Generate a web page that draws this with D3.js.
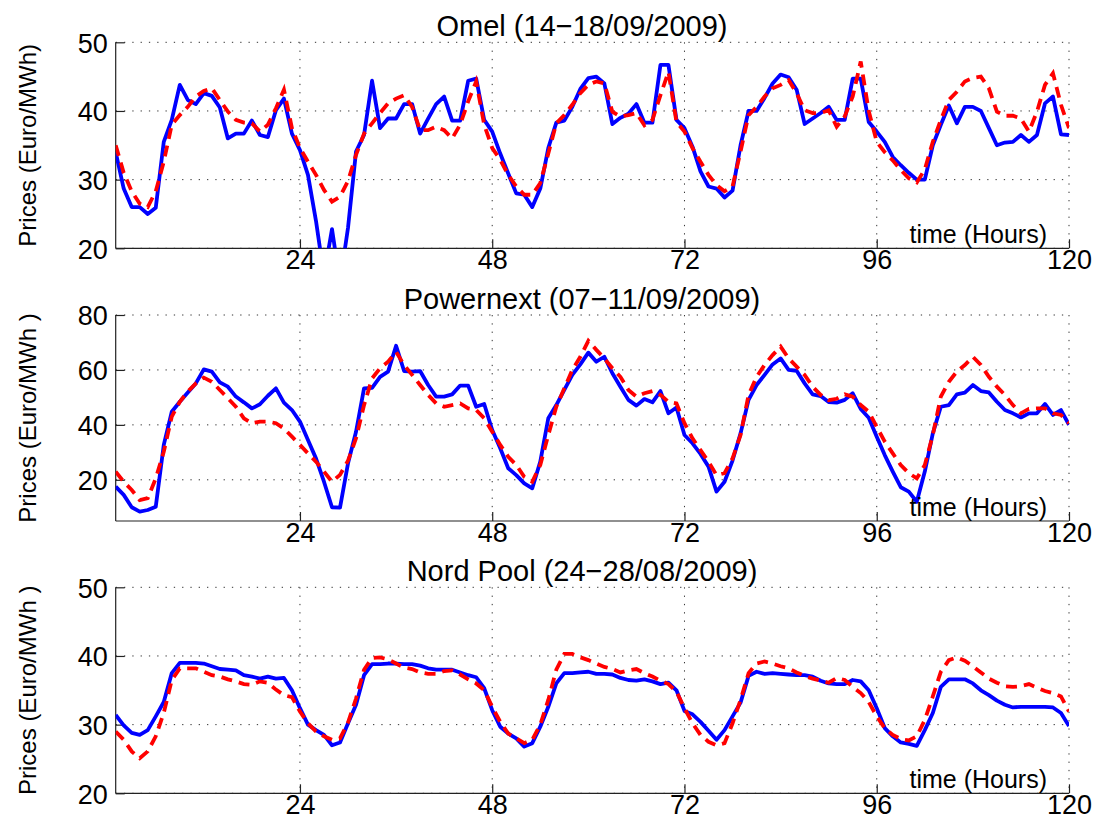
<!DOCTYPE html>
<html>
<head>
<meta charset="utf-8">
<script src="https://cdn.jsdelivr.net/npm/d3@7"></script>
<style>
  body { margin: 0; background: #fff; }
  text { font-family: "Liberation Sans", Arial, Helvetica, sans-serif; fill: #000; }
</style>
</head>
<body>
<svg width="1095" height="827"></svg>
<script>
// hourly prices, hour 1..120 (blue = actual, red dashed = forecast)
const omelActual = [34.0,28.7,26.0,26.0,25.0,25.9,35.5,38.7,43.8,41.6,41.0,42.6,42.2,40.5,36.0,36.7,36.7,38.6,36.5,36.2,
  40.1,41.8,36.7,34.3,30.7,24.0,16.0,22.8,15.0,23.0,34.1,36.5,44.4,37.5,38.9,38.9,41.0,41.0,36.7,38.9,
  41.0,42.1,38.6,38.6,44.4,44.7,38.7,37.0,33.8,30.9,28.0,27.8,26.0,28.7,34.6,38.3,38.6,40.6,43.2,44.8,
  45.0,44.0,38.1,39.0,39.6,41.0,38.3,38.3,46.7,46.7,38.7,37.5,34.8,31.2,29.0,28.7,27.4,28.4,35.0,40.0,
  40.0,41.9,44.0,45.3,44.9,43.1,38.1,38.9,39.7,40.6,38.7,38.7,44.7,44.7,38.4,37.0,35.5,33.3,32.1,31.0,
  30.0,30.0,35.0,38.0,40.8,38.2,40.6,40.6,40.0,37.5,35.0,35.4,35.5,36.5,35.5,36.5,41.1,42.1,36.6,36.5];
const omelForecast = [35.0,31.0,28.3,26.5,26.0,28.3,32.6,38.0,39.4,40.6,42.1,42.9,43.3,41.6,39.9,38.7,38.3,38.2,37.0,38.0,
  40.4,43.1,37.5,34.6,32.6,30.7,28.5,26.8,27.5,29.8,33.6,36.7,38.2,39.7,41.1,41.8,42.3,40.6,37.2,37.2,
  37.7,37.2,36.0,38.0,41.4,44.3,38.0,34.6,32.9,30.7,29.0,27.8,27.8,29.5,33.8,38.2,39.4,40.9,42.6,43.8,
  44.3,44.0,39.9,39.2,39.4,39.7,37.9,38.7,42.3,45.7,38.4,37.0,34.6,32.6,30.7,29.2,28.3,29.0,34.1,39.4,
  40.6,42.1,43.3,43.8,44.5,42.6,40.1,39.7,39.7,40.1,37.7,39.2,42.1,47.2,40.0,35.5,34.0,32.8,31.4,30.2,
  29.6,31.5,35.5,38.7,41.6,42.8,44.3,44.8,45.0,43.3,39.9,39.3,39.3,38.9,37.0,39.9,43.8,45.5,40.9,37.5];

const powerActual = [17.5,14.5,10.0,8.4,9.0,10.2,32.7,44.8,48.4,51.8,55.1,60.2,59.4,55.5,53.9,50.3,48.2,46.0,47.5,50.6,
  53.3,48.1,45.4,41.2,34.5,27.8,19.3,10.0,9.9,26.0,37.5,53.3,53.5,57.5,59.4,68.8,59.6,59.4,59.6,54.5,
  50.3,50.3,51.1,54.3,54.3,46.6,47.6,38.1,31.5,24.2,21.7,18.7,16.9,26.6,42.4,47.2,52.7,58.2,62.0,66.3,
  63.0,64.8,58.8,53.9,49.1,47.0,49.4,48.2,52.3,44.2,46.3,36.3,33.3,29.4,24.8,15.7,19.3,27.0,36.9,49.1,
  54.5,58.2,62.0,64.2,60.0,59.7,55.1,51.1,50.5,48.3,48.1,49.1,51.5,45.8,42.6,35.7,29.0,23.0,17.3,15.7,
  12.0,23.0,36.9,46.6,47.2,51.1,51.7,54.5,52.3,51.8,48.4,45.4,44.2,42.7,44.2,44.2,47.6,43.6,45.4,40.0];
const powerForecast = [23.0,19.3,16.3,12.6,13.3,20.5,30.2,43.0,48.4,52.1,55.1,57.2,55.7,52.7,49.7,46.6,42.4,40.6,41.2,41.2,
  40.6,38.7,35.7,32.7,29.6,26.6,23.0,19.3,21.8,27.0,35.1,47.2,56.9,60.6,63.0,66.6,61.8,58.2,54.5,50.9,
  47.8,46.6,47.2,47.8,46.0,45.4,42.4,37.5,32.7,28.4,25.4,21.1,19.3,25.4,36.3,46.6,53.3,60.0,64.8,70.6,
  67.3,64.2,60.6,57.5,52.7,50.3,51.5,52.3,50.9,48.4,47.8,40.6,35.1,30.8,26.6,21.7,22.4,27.8,36.3,50.9,
  57.5,61.8,65.4,68.5,64.2,61.2,58.2,53.9,50.9,49.0,49.5,51.1,50.3,47.2,44.8,39.3,33.9,29.6,25.4,22.4,
  20.5,25.4,36.3,50.3,55.7,59.4,61.8,64.8,61.8,57.5,53.9,50.9,47.2,44.2,45.8,46.0,46.0,44.2,43.6,40.6];

const nordActual = [31.4,29.9,28.8,28.5,29.2,31.2,33.3,37.5,39.0,39.0,39.0,38.9,38.5,38.1,38.0,37.9,37.2,37.0,36.7,37.0,
  36.7,36.8,35.0,32.4,30.0,29.2,28.5,27.0,27.4,30.2,32.9,37.2,38.8,38.8,38.9,38.9,38.8,38.8,38.6,38.2,
  38.0,38.0,38.0,37.6,37.2,36.9,35.3,32.1,29.7,28.7,28.0,26.8,27.3,29.7,32.6,36.0,37.5,37.5,37.6,37.7,
  37.4,37.4,37.3,36.8,36.5,36.4,36.6,36.3,35.9,36.1,35.0,32.0,31.5,30.4,29.1,27.8,29.2,31.2,33.2,37.1,
  37.7,37.4,37.5,37.4,37.3,37.2,37.2,37.0,36.4,36.0,35.9,35.9,36.5,36.3,35.0,32.4,29.5,28.3,27.4,27.2,
  26.9,29.2,31.7,35.5,36.6,36.6,36.6,36.0,35.0,34.3,33.5,32.9,32.5,32.6,32.6,32.6,32.6,32.5,31.7,29.8];
const nordForecast = [29.0,27.8,26.1,25.1,26.1,28.3,31.7,36.5,38.2,38.2,38.2,37.7,37.2,37.0,36.6,36.3,35.9,35.8,36.3,36.1,
  35.1,34.3,34.0,31.9,30.2,29.0,28.3,27.8,28.0,30.3,33.8,38.0,39.7,39.8,39.5,38.9,38.3,38.1,37.6,37.4,
  37.4,37.8,37.9,37.3,36.6,36.0,35.0,32.6,30.4,28.7,28.0,27.3,27.8,30.0,33.6,38.0,40.3,40.3,39.8,39.4,
  38.9,38.4,38.1,37.6,37.9,38.1,37.5,37.0,36.4,35.9,34.8,32.4,30.2,28.5,27.5,27.0,27.3,30.2,33.6,37.5,
  38.9,39.2,38.9,38.5,38.2,37.6,37.1,36.7,36.4,36.1,36.8,36.5,35.5,34.6,33.3,31.2,29.5,28.5,27.9,27.7,
  28.3,30.7,34.1,37.7,39.4,39.8,39.3,38.5,37.6,36.7,36.1,35.6,35.5,35.6,35.9,35.4,34.9,34.6,34.1,31.9];

const titles = ["Omel (14\u221218/09/2009)", "Powernext (07\u221211/09/2009)", "Nord Pool (24\u221228/08/2009)"];
const yLabels = ["Prices (Euro/MWh)", "Prices (Euro/MWh )", "Prices (Euro/MWh )"];
const yDomains = [[20, 50], [5, 80], [20, 50]];
const yTicks = [[20, 30, 40, 50], [20, 40, 60, 80], [20, 30, 40, 50]];
const xTicks = [24, 48, 72, 96, 120];

const svg = d3.select("svg");
const left = 115.7, right = 1069, ph = 206;
const tops = [42.3, 315, 587.3];

const x = d3.scaleLinear().domain([1, 120]).range([left, right]);

const panels = [
  { actual: omelActual, forecast: omelForecast },
  { actual: powerActual, forecast: powerForecast },
  { actual: nordActual, forecast: nordForecast }
];

panels.forEach((p, k) => {
  const top = tops[k];
  const y = d3.scaleLinear().domain(yDomains[k]).range([top + ph, top]);
  const g = svg.append("g");

  // dotted grid
  g.selectAll(".hg").data(yTicks[k]).enter().append("line")
    .attr("x1", left).attr("x2", right)
    .attr("y1", d => y(d)).attr("y2", d => y(d))
    .attr("stroke", "#333").attr("stroke-width", 1).attr("stroke-dasharray", "1.3,7");
  g.selectAll(".vg").data(xTicks).enter().append("line")
    .attr("x1", d => x(d)).attr("x2", d => x(d))
    .attr("y1", top).attr("y2", top + ph)
    .attr("stroke", "#333").attr("stroke-width", 1).attr("stroke-dasharray", "1.3,7");

  // axes (ticks point inward like matlab)
  const yAxis = d3.axisLeft(y).tickValues(yTicks[k]).tickSize(-9).tickPadding(8);
  const xAxis = d3.axisBottom(x).tickValues(xTicks).tickSize(-9).tickPadding(2);
  const ya = g.append("g").attr("transform", `translate(${left},0)`).call(yAxis);
  const xa = g.append("g").attr("transform", `translate(0,${top + ph})`).call(xAxis);
  [ya, xa].forEach(a => {
    a.select(".domain").attr("stroke", "#222").attr("stroke-width", 1.2);
    a.selectAll(".tick line").attr("stroke", "#222").attr("stroke-width", 1.2);
    a.selectAll(".tick text").style("font-size", "27px")
      .style("font-family", '"Liberation Sans", Arial, sans-serif');
  });
  ya.selectAll(".tick text").attr("dy", "0.36em");
  ya.select(".domain").attr("d", `M0,${top + ph}V${top}`);
  xa.select(".domain").attr("d", `M${left},0H${right}`);

  // clipped lines
  const clipId = "clip" + k;
  svg.append("clipPath").attr("id", clipId).append("rect")
    .attr("x", left).attr("y", top).attr("width", right - left).attr("height", ph);
  const line = d3.line().x((d, i) => x(i + 1)).y(d => y(d));
  const lg = g.append("g").attr("clip-path", `url(#${clipId})`);
  lg.append("path").datum(p.actual).attr("d", line)
    .attr("fill", "none").attr("stroke", "#0000ff").attr("stroke-width", 3.8)
    .attr("stroke-linejoin", "round");
  lg.append("path").datum(p.forecast).attr("d", line)
    .attr("fill", "none").attr("stroke", "#ff0000").attr("stroke-width", 3.8)
    .attr("stroke-dasharray", "11,7");

  // texts
  g.append("text").attr("x", 582).attr("y", top - 6).attr("text-anchor", "middle")
    .style("font-size", "29px").text(titles[k]);
  g.append("text").attr("transform", `translate(36,${top + ph / 2}) rotate(-90)`)
    .attr("text-anchor", "middle").style("font-size", "24px").text(yLabels[k]);
  g.append("text").attr("x", 1047).attr("y", top + ph - 5).attr("text-anchor", "end")
    .style("font-size", "25px").text("time (Hours)");
});
</script>
</body>
</html>
